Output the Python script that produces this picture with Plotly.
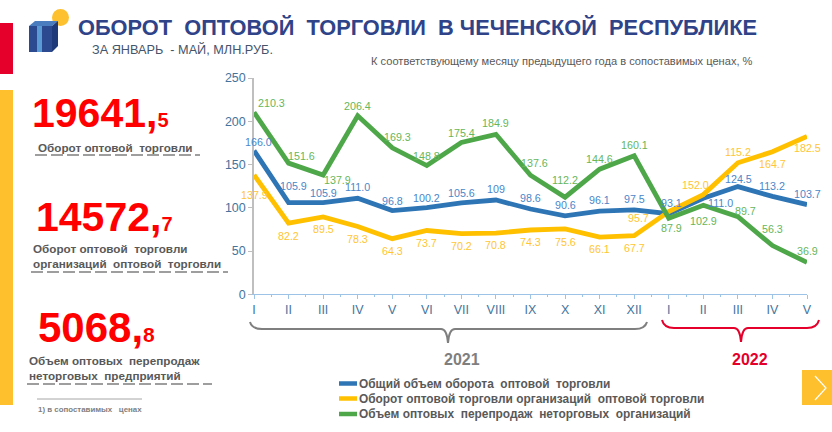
import plotly.graph_objects as go

W, H = 832, 432
months = ["I","II","III","IV","V","VI","VII","VIII","IX","X","XI","XII","I","II","III","IV","V"]
y_ticks = [0, 50, 100, 150, 200, 250]

name_total = "Общий объем оборота  оптовой  торговли"
name_org = "Оборот оптовой торговли организаций  оптовой торговли"
name_resale = "Объем оптовых  перепродаж  неторговых  организаций"

total = [166.0,105.9,105.9,111.0,96.8,100.2,105.6,109,98.6,90.6,96.1,97.5,93.1,111.0,124.5,113.2,103.7]
org = [137.9,82.2,89.5,78.3,64.3,73.7,70.2,70.8,74.3,75.6,66.1,67.7,95.7,115.2,152.0,164.7,182.5]
resale = [210.3,151.6,137.9,206.4,169.3,148.8,175.4,184.9,137.6,112.2,144.6,160.1,87.9,102.9,89.7,56.3,36.9]

total_labels = ["166.0","105.9","105.9","111.0","96.8","100.2","105.6","109","98.6","90.6","96.1","97.5","93.1","111.0","124.5","113.2","103.7"]
org_labels = ["137.9","82.2","89.5","78.3","64.3","73.7","70.2","70.8","74.3","75.6","66.1","67.7","95.7","152.0","115.2","164.7","182.5"]
resale_labels = ["210.3","151.6","137.9","206.4","169.3","148.8","175.4","184.9","137.6","112.2","144.6","160.1","87.9","102.9","89.7","56.3","36.9"]

total_dx = [4,5,0,0,0,0,0,0,0,0,0,0,3,17,1,0,0]
total_dy = [9,17,10,11,10,10,10,11,11,11,11,11,11,-5,8,10,11]
org_dx = [0,0,0,0,0,0,0,0,0,0,0,0,-30,-8,0,0,0]
org_dy = [-20,-13,-12,-12,-12,-12,-12,-12,-12,-13,-12,-12,-6,10,11,-12,-12]
resale_dx = [17,13,14,0,5,0,0,0,4,0,0,0,3,0,8,0,0]
resale_dy = [9,7,-5,10,11,10,10,11,12,17,10,11,-10,-16,6,17,11]

BLUE, YEL, GRN = "#2E75B6", "#FFC000", "#4EA84A"
FONT = "Liberation Sans"
NARROW = "Liberation Sans Narrow, Liberation Sans"
GREY = "#595959"
xs = list(range(len(months)))

def px(x): return x / W
def py(y): return 1 - y / H

fig = go.Figure()
series = [(name_total, total, BLUE), (name_org, org, YEL), (name_resale, resale, GRN)]
for name, vals, col in series:
    fig.add_trace(go.Scatter(x=xs, y=vals, name=name, mode="lines",
                             line=dict(color=col, width=4.8, shape="linear"), hoverinfo="skip"))

ann = []
for vals, labels, dx, dy, col in [(total, total_labels, total_dx, total_dy, "#4A86C8"),
                                  (org, org_labels, org_dx, org_dy, "#FFC533"),
                                  (resale, resale_labels, resale_dx, resale_dy, "#66B65A")]:
    for i, (v, t) in enumerate(zip(vals, labels)):
        ann.append(dict(x=i, y=v, xref="x", yref="y", text=t, showarrow=False,
                        xshift=dx[i], yshift=dy[i], font=dict(family=NARROW, size=10.7, color=col)))

def text(x, y, t, size, color, anchor="left", bold=False):
    if bold:
        t = f"<b>{t}</b>"
    ann.append(dict(x=px(x), y=py(y), xref="paper", yref="paper", text=t, showarrow=False,
                    xanchor=anchor, yanchor="middle", font=dict(family=FONT, size=size, color=color)))

text(76, 28, "ОБОРОТ  ОПТОВОЙ  ТОРГОВЛИ  В ЧЕЧЕНСКОЙ  РЕСПУБЛИКЕ", 21.8, "#2F4389", bold=True)
text(90, 50, "ЗА ЯНВАРЬ  - МАЙ, МЛН.РУБ.", 12.7, "#44546A")
text(369, 61, "К соответствующему месяцу предыдущего года в сопоставимых ценах, %", 11.1, "#595959")

def big(x, y, whole, frac, s1=41, s2=20):
    text(x, y, f"<b>{whole},<span style='font-size:{s2}px'>{frac}</span></b>", s1, "#FF0000")

big(30, 113, "19641", "5")
big(34, 217, "14572", "7")
big(36, 327, "5068", "8", 42, 21)

text(36, 147, "Оборот оптовой  торговли", 11.7, GREY, bold=True)
text(31, 248, "Оборот оптовой  торговли", 11.7, GREY, bold=True)
text(31, 263, "организаций  оптовой  торговли", 11.7, GREY, bold=True)
text(27, 360, "Объем оптовых  перепродаж", 11.7, GREY, bold=True)
text(27, 375, "неторговых  предприятий", 11.7, GREY, bold=True)
text(36, 409, "1) в сопоставимых   ценах", 7.9, "#7F7F7F", bold=True)
text(462, 359, "2021", 16, "#7F7F7F", "center", bold=True)
text(750, 359, "2022", 16, "#E4002B", "center", bold=True)

DASH = "12px,4px"

def rect(x0, y0, x1, y1, col):
    return dict(type="rect", xref="paper", yref="paper", x0=px(x0), x1=px(x1), y0=py(y0), y1=py(y1),
                fillcolor=col, line=dict(width=0), layer="below")

def hline(x0, x1, y, col="#7F7F7F", width=1.3, dash=DASH):
    return dict(type="line", xref="paper", yref="paper", x0=px(x0), x1=px(x1), y0=py(y), y1=py(y),
                line=dict(color=col, width=width, dash=dash))

def path(pts, col, width=2, fill=None):
    d = ""
    for cmd, *c in pts:
        d += cmd + " ".join(f"{px(c[k]):.5f},{py(c[k+1]):.5f}" for k in range(0, len(c), 2)) + " "
    return dict(type="path", xref="paper", yref="paper", path=d.strip(),
                line=dict(color=col, width=width), fillcolor=fill or "rgba(0,0,0,0)")

def brace(x0, xm, x1, top, mid, tip, col):
    return path([("M", x0, top), ("Q", x0 + 2, mid, x0 + 12, mid), ("L", xm - 7, mid),
                 ("Q", xm - 1, mid, xm, tip), ("Q", xm + 1, mid, xm + 7, mid),
                 ("L", x1 - 12, mid), ("Q", x1 - 2, mid, x1, top)], col, 2)

shapes = [
    rect(0, 23, 13, 74, "#E4002B"),
    rect(0, 90, 13, 405, "#FFC02E"),
    rect(802, 370, 832, 405, "#FFC02E"),
    path([("M", 815, 376), ("L", 826, 388), ("L", 815, 400)], "#FFFFFF", 1.2),
    hline(35, 200, 155), hline(31, 228, 272), hline(27, 212, 384),
    hline(37, 142, 399, "#A6A6A6", 1, "solid"),
    brace(250, 448, 647, 322, 329, 343, "#7F7F7F"),
    brace(662, 741, 819, 320, 328, 342, "#E4002B"),
    dict(type="circle", xref="paper", yref="paper", x0=px(52), x1=px(69), y0=py(26), y1=py(9),
         fillcolor="#FDC02F", line=dict(width=0), layer="below"),
    path([("M", 29, 26), ("L", 52, 26), ("L", 52, 52), ("L", 29, 52), ("Z",)], "#2B4A8F", 0, "#2B4A8F"),
    path([("M", 29, 26), ("L", 35, 21), ("L", 58, 21), ("L", 52, 26), ("Z",)], "#4A7CC0", 0, "#4A7CC0"),
    path([("M", 52, 26), ("L", 58, 21), ("L", 58, 46), ("L", 52, 52), ("Z",)], "#1F3A78", 0, "#1F3A78"),
    rect(37, 26, 42, 52, "#5B9BD5"),
]
shapes[-1]["layer"] = "above"

# legend rows, as in the original slide
for (name, _, col), ly in zip(series, [383.5, 398.5, 414]):
    shapes.append(dict(type="line", xref="paper", yref="paper", x0=px(339), x1=px(357), y0=py(ly), y1=py(ly),
                       line=dict(color=col, width=4.5)))
    text(357, ly, name, 11.9, GREY, bold=True)

fig.update_layout(
    width=W, height=H, autosize=False, margin=dict(l=0, r=0, t=0, b=0, autoexpand=False),
    paper_bgcolor="#FFFFFF", plot_bgcolor="#FFFFFF", annotations=ann, shapes=shapes, showlegend=False,
    xaxis=dict(domain=[px(254), px(807)], range=[0, 16], tickvals=xs, ticktext=months, showgrid=False,
               automargin=False, zeroline=False, showline=True, linecolor="#9DC3E6", linewidth=1.3, ticks="outside",
               ticklen=4, tickcolor="#9DC3E6", tickfont=dict(family=FONT, size=12.5, color="#44749D"),
               tickangle=0, minor=dict(dtick=0.5, ticks="outside", ticklen=2, tickcolor="#9DC3E6")),
    yaxis=dict(domain=[py(294.3), py(78)], range=[0, 250], tickvals=y_ticks, showgrid=False, zeroline=False,
               automargin=False, showline=True, linecolor="#BFBFBF", linewidth=1.5, ticks="outside", ticklen=4,
               tickcolor="#BFBFBF", tickfont=dict(family=FONT, size=12.5, color="#44749D")),
)
fig.write_html("out.html", config=dict(displayModeBar=False),
               post_script="document.body.style.margin='0';document.documentElement.style.overflow='hidden';")
